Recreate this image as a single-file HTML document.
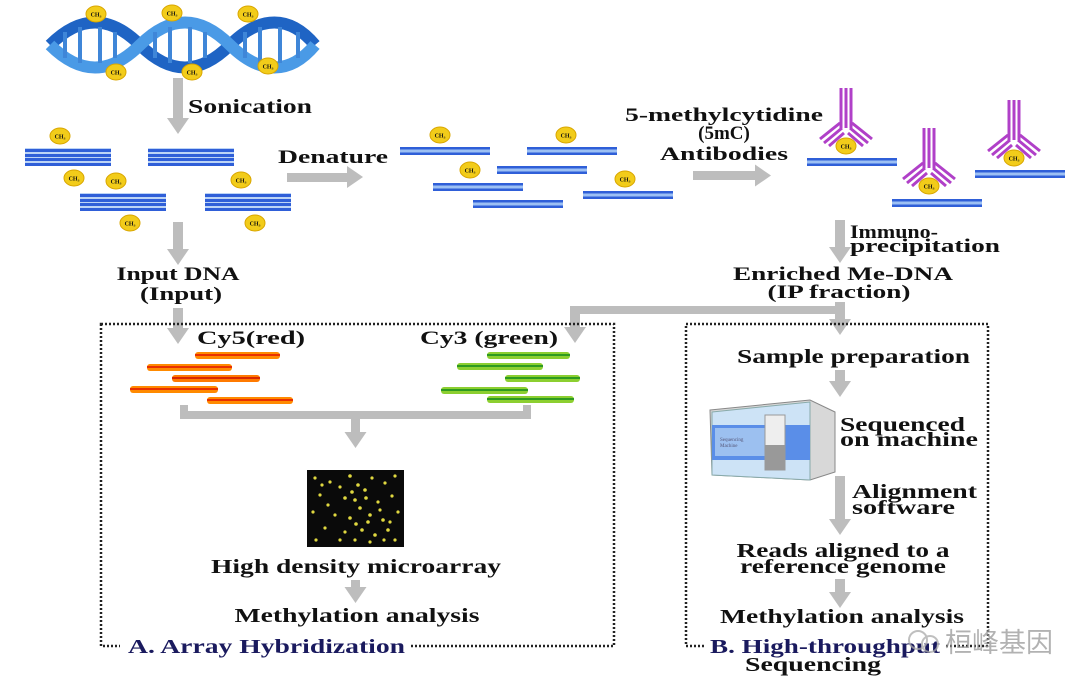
<!DOCTYPE html>
<html><head><meta charset="utf-8"><style>
html,body{margin:0;padding:0;background:#fff;}
svg{display:block;}
text{font-family:"Liberation Serif",serif;font-weight:bold;fill:#111;}
</style></head><body>
<svg width="1080" height="690" viewBox="0 0 1080 690" xmlns="http://www.w3.org/2000/svg">
<defs>
<g id="ds"><rect x="0" y="0" width="86" height="18" fill="#bcd4f6"/><rect x="0" y="1" width="86" height="3" fill="#2f5fd8"/><rect x="0" y="6" width="86" height="3" fill="#2f5fd8"/><rect x="0" y="10" width="86" height="3" fill="#2f5fd8"/><rect x="0" y="15" width="86" height="3" fill="#2f5fd8"/></g>
<g id="ss"><rect x="0" y="0" width="90" height="8" fill="#9cc0f4"/><rect x="0" y="0" width="90" height="2.5" fill="#2f5fd8"/><rect x="0" y="5.5" width="90" height="2.5" fill="#2f5fd8"/></g>
<g id="ball"><line x1="0" y1="0" x2="0" y2="8" stroke="#222" stroke-width="2"/><ellipse cx="0" cy="0" rx="10" ry="8" fill="#f2cc1a" stroke="#d9a600" stroke-width="1"/><text x="0" y="2.5" font-size="6" text-anchor="middle" style="font-weight:bold">CH₃</text></g>
<g id="ballu"><line x1="0" y1="0" x2="0" y2="-8" stroke="#222" stroke-width="2"/><ellipse cx="0" cy="0" rx="10" ry="8" fill="#f2cc1a" stroke="#d9a600" stroke-width="1"/><text x="0" y="2.5" font-size="6" text-anchor="middle" style="font-weight:bold">CH₃</text></g>
<g id="ab" fill="none" stroke="#b040c8" stroke-width="3"><path d="M-5 0 V-40 M0 0 V-40 M5 0 V-40"/><path d="M-4 0 L-22 15 M-2 5 L-17 18 M-6 -5 L-26 11"/><path d="M4 0 L22 15 M2 5 L17 18 M6 -5 L26 11"/></g>
<g id="ad"><polygon points="-11,0 11,0 0,16" fill="#bdbdbd"/></g>
<g id="ar"><polygon points="0,-11 0,11 16,0" fill="#bdbdbd"/></g>
</defs>

<!-- helix -->
<g>
<path d="M50 45 C80 15,110 15,140 45 S200 75,230 45 S290 15,315 45" stroke="#1f64c4" stroke-width="12" fill="none"/>
<path d="M50 45 C80 75,110 75,140 45 S200 15,230 45 S290 75,315 45" stroke="#4a9ae6" stroke-width="12" fill="none"/>
<g stroke="#3f86d8" stroke-width="4">
<line x1="65" y1="32" x2="65" y2="58"/><line x1="80" y1="27" x2="80" y2="63"/><line x1="100" y1="27" x2="100" y2="63"/><line x1="115" y1="32" x2="115" y2="58"/>
<line x1="155" y1="32" x2="155" y2="58"/><line x1="170" y1="27" x2="170" y2="63"/><line x1="190" y1="27" x2="190" y2="63"/><line x1="205" y1="32" x2="205" y2="58"/>
<line x1="245" y1="32" x2="245" y2="58"/><line x1="260" y1="27" x2="260" y2="63"/><line x1="280" y1="27" x2="280" y2="63"/><line x1="298" y1="32" x2="298" y2="58"/>
</g>
<use href="#ball" x="96" y="14"/><use href="#ball" x="172" y="13"/><use href="#ball" x="248" y="14"/>
<use href="#ballu" x="116" y="72"/><use href="#ballu" x="192" y="72"/><use href="#ballu" x="268" y="66"/>
</g>

<rect x="173" y="78" width="10" height="40" fill="#bdbdbd"/><use href="#ad" x="178" y="118"/>
<text x="188" y="113" font-size="20" textLength="124" lengthAdjust="spacingAndGlyphs">Sonication</text>

<use href="#ds" x="25" y="148"/><use href="#ball" x="60" y="136"/><use href="#ballu" x="74" y="178"/>
<use href="#ds" x="148" y="148"/>
<use href="#ds" x="80" y="193"/><use href="#ball" x="116" y="181"/><use href="#ballu" x="130" y="223"/>
<use href="#ds" x="205" y="193"/><use href="#ball" x="241" y="180"/><use href="#ballu" x="255" y="223"/>

<text x="278" y="163" font-size="19" textLength="110" lengthAdjust="spacingAndGlyphs">Denature</text>
<rect x="287" y="173" width="60" height="9" fill="#bdbdbd"/><use href="#ar" x="347" y="177"/>

<use href="#ss" x="400" y="147"/><use href="#ball" x="440" y="135"/>
<use href="#ss" x="527" y="147"/><use href="#ball" x="566" y="135"/>
<use href="#ss" x="497" y="166"/>
<use href="#ss" x="433" y="183"/><use href="#ball" x="470" y="170"/>
<use href="#ss" x="473" y="200"/>
<use href="#ss" x="583" y="191"/><use href="#ball" x="625" y="179"/>

<text x="724" y="121" font-size="19" text-anchor="middle" textLength="198" lengthAdjust="spacingAndGlyphs">5-methylcytidine</text>
<text x="724" y="139" font-size="19" text-anchor="middle">(5mC)</text>
<text x="724" y="160" font-size="19" text-anchor="middle" textLength="128" lengthAdjust="spacingAndGlyphs">Antibodies</text>
<rect x="693" y="171" width="62" height="9" fill="#bdbdbd"/><use href="#ar" x="755" y="175.5"/>

<use href="#ss" x="807" y="158"/><use href="#ball" x="846" y="146"/><use href="#ab" x="846" y="128"/>
<use href="#ss" x="892" y="199"/><use href="#ball" x="929" y="186"/><use href="#ab" x="929" y="168"/>
<use href="#ss" x="975" y="170"/><use href="#ball" x="1014" y="158"/><use href="#ab" x="1014" y="140"/>

<rect x="835" y="220" width="10" height="28" fill="#bdbdbd"/><use href="#ad" x="840" y="247"/>
<text x="850" y="238" font-size="19" textLength="88" lengthAdjust="spacingAndGlyphs">Immuno-</text>
<text x="850" y="252" font-size="19" textLength="150" lengthAdjust="spacingAndGlyphs">precipitation</text>
<text x="843" y="280" font-size="19" text-anchor="middle" textLength="220" lengthAdjust="spacingAndGlyphs">Enriched Me-DNA</text>
<text x="839" y="298" font-size="19" text-anchor="middle" textLength="143" lengthAdjust="spacingAndGlyphs">(IP fraction)</text>

<rect x="173" y="222" width="10" height="28" fill="#bdbdbd"/><use href="#ad" x="178" y="249"/>
<text x="178" y="280" font-size="19" text-anchor="middle" textLength="123" lengthAdjust="spacingAndGlyphs">Input DNA</text>
<text x="181" y="300" font-size="19" text-anchor="middle" textLength="82" lengthAdjust="spacingAndGlyphs">(Input)</text>
<rect x="173" y="308" width="10" height="22" fill="#bdbdbd"/><use href="#ad" x="178" y="328"/>

<rect x="835" y="302" width="10" height="18" fill="#bdbdbd"/><use href="#ad" x="840" y="319"/>
<rect x="570" y="306" width="270" height="8" fill="#bdbdbd"/>
<rect x="570" y="306" width="10" height="22" fill="#bdbdbd"/><use href="#ad" x="575" y="327"/>

<rect x="101" y="324" width="513" height="322" fill="none" stroke="#222" stroke-width="2.5" stroke-dasharray="2 2"/>
<rect x="686" y="324" width="302" height="322" fill="none" stroke="#222" stroke-width="2.5" stroke-dasharray="2 2"/>
<rect x="120" y="640" width="290" height="14" fill="#fff"/>
<rect x="705" y="640" width="240" height="14" fill="#fff"/>

<text x="197" y="344" font-size="19" textLength="108" lengthAdjust="spacingAndGlyphs">Cy5(red)</text>
<text x="420" y="344" font-size="19" textLength="138" lengthAdjust="spacingAndGlyphs">Cy3 (green)</text>

<g>
<rect x="195" y="352" width="85" height="7" rx="3" fill="#ff8a00"/><rect x="195" y="354" width="85" height="2" fill="#e83000"/>
<rect x="147" y="364" width="85" height="7" rx="3" fill="#ff8a00"/><rect x="147" y="366" width="85" height="2" fill="#e83000"/>
<rect x="172" y="375" width="88" height="7" rx="3" fill="#ff7a00"/><rect x="172" y="377" width="88" height="2" fill="#d82800"/>
<rect x="130" y="386" width="88" height="7" rx="3" fill="#ff8a00"/><rect x="130" y="388" width="88" height="2" fill="#e83000"/>
<rect x="207" y="397" width="86" height="7" rx="3" fill="#ff8a00"/><rect x="207" y="399" width="86" height="2" fill="#e83000"/>
<rect x="487" y="352" width="83" height="7" rx="3" fill="#8ccf30"/><rect x="487" y="354" width="83" height="2" fill="#2e9a20"/>
<rect x="457" y="363" width="86" height="7" rx="3" fill="#8ccf30"/><rect x="457" y="365" width="86" height="2" fill="#2e9a20"/>
<rect x="505" y="375" width="75" height="7" rx="3" fill="#8ccf30"/><rect x="505" y="377" width="75" height="2" fill="#2e9a20"/>
<rect x="441" y="387" width="87" height="7" rx="3" fill="#8ccf30"/><rect x="441" y="389" width="87" height="2" fill="#2e9a20"/>
<rect x="487" y="396" width="87" height="7" rx="3" fill="#8ccf30"/><rect x="487" y="398" width="87" height="2" fill="#2e9a20"/>
</g>

<rect x="180" y="405" width="8" height="14" fill="#bdbdbd"/>
<rect x="523" y="405" width="8" height="14" fill="#bdbdbd"/>
<rect x="180" y="411" width="351" height="8" fill="#bdbdbd"/>
<rect x="351" y="415" width="9" height="18" fill="#bdbdbd"/><use href="#ad" x="355.5" y="432"/>

<rect x="307" y="470" width="97" height="77" fill="#0a0a0a"/>
<g fill="#e0d840">
<circle cx="315" cy="478" r="1.6"/><circle cx="330" cy="482" r="1.6"/><circle cx="350" cy="476" r="1.8"/><circle cx="358" cy="485" r="1.8"/><circle cx="365" cy="490" r="1.8"/><circle cx="372" cy="478" r="1.6"/><circle cx="385" cy="483" r="1.6"/><circle cx="395" cy="476" r="1.6"/>
<circle cx="320" cy="495" r="1.6"/><circle cx="345" cy="498" r="1.8"/><circle cx="355" cy="500" r="1.8"/><circle cx="360" cy="508" r="1.8"/><circle cx="378" cy="502" r="1.6"/><circle cx="392" cy="496" r="1.6"/>
<circle cx="313" cy="512" r="1.6"/><circle cx="335" cy="515" r="1.6"/><circle cx="350" cy="518" r="1.8"/><circle cx="370" cy="515" r="1.8"/><circle cx="383" cy="520" r="1.8"/><circle cx="398" cy="512" r="1.6"/>
<circle cx="325" cy="528" r="1.6"/><circle cx="345" cy="532" r="1.6"/><circle cx="362" cy="530" r="1.8"/><circle cx="375" cy="535" r="1.8"/><circle cx="388" cy="530" r="1.8"/><circle cx="316" cy="540" r="1.6"/><circle cx="355" cy="540" r="1.6"/><circle cx="395" cy="540" r="1.6"/>
<circle cx="340" cy="487" r="1.6"/><circle cx="352" cy="492" r="1.8"/><circle cx="366" cy="498" r="1.8"/><circle cx="356" cy="524" r="1.8"/><circle cx="368" cy="522" r="1.8"/><circle cx="380" cy="510" r="1.6"/><circle cx="390" cy="522" r="1.6"/><circle cx="328" cy="505" r="1.6"/><circle cx="340" cy="540" r="1.6"/><circle cx="370" cy="542" r="1.6"/><circle cx="384" cy="540" r="1.6"/><circle cx="322" cy="485" r="1.6"/>
</g>

<text x="356" y="573" font-size="20" text-anchor="middle" textLength="290" lengthAdjust="spacingAndGlyphs">High density microarray</text>
<rect x="351" y="580" width="9" height="8" fill="#bdbdbd"/><use href="#ad" x="355.5" y="587"/>
<text x="357" y="622" font-size="20" text-anchor="middle" textLength="245" lengthAdjust="spacingAndGlyphs">Methylation analysis</text>
<text x="128" y="653" font-size="20" style="fill:#1a1a5e" textLength="277" lengthAdjust="spacingAndGlyphs">A. Array Hybridization</text>

<text x="737" y="363" font-size="20" textLength="233" lengthAdjust="spacingAndGlyphs">Sample preparation</text>
<rect x="835" y="370" width="10" height="12" fill="#bdbdbd"/><use href="#ad" x="840" y="381"/>

<g>
<polygon points="710,410 810,400 835,412 835,472 810,480 712,475" fill="#d8d8d8" stroke="#888"/>
<polygon points="712,412 810,402 810,480 712,475" fill="#cde3f6" stroke="#8aa"/>
<rect x="712" y="425" width="98" height="35" fill="#5a8ee8"/>
<rect x="715" y="428" width="50" height="28" fill="#9cc0f0"/>
<rect x="765" y="415" width="20" height="55" fill="#eee" stroke="#999"/>
<rect x="765" y="445" width="20" height="25" fill="#999"/>
<text x="720" y="441" font-size="5" style="font-weight:normal;fill:#557">Sequencing</text>
<text x="720" y="447" font-size="5" style="font-weight:normal;fill:#557">Machine</text>
</g>
<text x="840" y="431" font-size="20" textLength="125" lengthAdjust="spacingAndGlyphs">Sequenced</text>
<text x="840" y="446" font-size="20" textLength="138" lengthAdjust="spacingAndGlyphs">on machine</text>

<rect x="835" y="476" width="10" height="44" fill="#bdbdbd"/><use href="#ad" x="840" y="519"/>
<text x="852" y="498" font-size="20" textLength="125" lengthAdjust="spacingAndGlyphs">Alignment</text>
<text x="852" y="514" font-size="20" textLength="103" lengthAdjust="spacingAndGlyphs">software</text>
<text x="843" y="557" font-size="20" text-anchor="middle" textLength="213" lengthAdjust="spacingAndGlyphs">Reads aligned to a</text>
<text x="843" y="573" font-size="20" text-anchor="middle" textLength="206" lengthAdjust="spacingAndGlyphs">reference genome</text>
<rect x="835" y="579" width="10" height="14" fill="#bdbdbd"/><use href="#ad" x="840" y="592"/>
<text x="842" y="623" font-size="20" text-anchor="middle" textLength="244" lengthAdjust="spacingAndGlyphs">Methylation analysis</text>
<text x="710" y="653" font-size="20" style="fill:#1a1a5e" textLength="230" lengthAdjust="spacingAndGlyphs">B. High-throughput</text>
<text x="813" y="671" font-size="20" text-anchor="middle" textLength="136" lengthAdjust="spacingAndGlyphs">Sequencing</text>

<g opacity="0.75">
<circle cx="918" cy="640" r="9" fill="none" stroke="#aaa" stroke-width="2"/>
<circle cx="930" cy="644" r="8" fill="none" stroke="#aaa" stroke-width="2"/>
<text x="945" y="652" font-size="27" style="font-family:'Noto Sans CJK SC',sans-serif;font-weight:normal;fill:#999">桓峰基因</text>
</g>
</svg>
</body></html>
